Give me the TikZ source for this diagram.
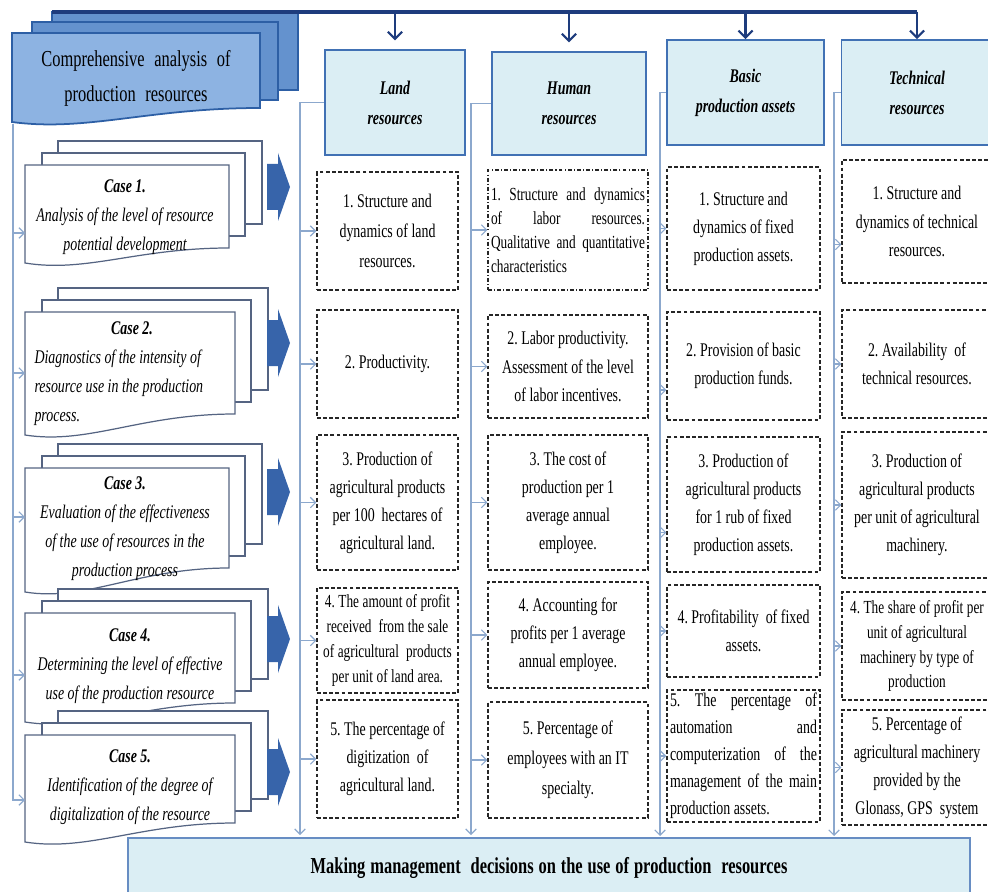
\documentclass[tikz,border=0pt]{standalone}
\usepackage{fontspec}
\setmainfont{Liberation Serif}[FakeStretch=0.72]
\frenchspacing
\usetikzlibrary{arrows.meta}

\definecolor{headfront}{RGB}{141,179,226}
\definecolor{headback}{RGB}{100,146,206}
\definecolor{headedge}{RGB}{45,95,165}
\definecolor{busblue}{RGB}{30,60,125}
\definecolor{colfill}{RGB}{219,238,244}
\definecolor{coledge}{RGB}{65,113,180}
\definecolor{linkblue}{RGB}{140,168,205}
\definecolor{pageedge}{RGB}{85,100,130}
\definecolor{arrowblue}{RGB}{55,100,170}

\newcommand{\widesp}{\spaceskip=5.5pt plus 1pt\relax}
\newcommand{\decsp}{\spaceskip=2.8pt plus 1pt\relax}
\newcommand{\tightsp}{\spaceskip=2pt plus 1.5pt minus 0.4pt\relax\xspaceskip=\spaceskip}

\tikzset{
  headpage/.style={draw=headedge,line width=1pt,fill=headback},
  headfrontpage/.style={draw=headedge,line width=1pt,fill=headfront},
  casepage/.style={draw=pageedge,line width=0.7pt,fill=white},
  casetext/.style={font=\fontsize{11}{16.5}\selectfont\itshape\tightsp,align=flush center,
    execute at begin node=\tightsp,text width=3.9cm,inner sep=0pt},
  bus/.style={draw=busblue,line width=1.8pt},
  drop/.style={draw=busblue,line width=1.2pt,->,>={Straight Barb[length=4pt,width=8pt]}},
  link/.style={draw=linkblue,line width=0.7pt,->,>={Straight Barb[length=3pt,width=6pt]}},
  colhead/.style={draw=coledge,line width=1.1pt,fill=colfill,align=center,
    font=\fontsize{11}{17}\selectfont\bfseries\itshape\tightsp},
  crit/.style={draw=black!85,line width=0.6pt,dash pattern=on 2.2pt off 1.3pt,fill=white,
    align=flush center,execute at begin node=\tightsp,inner sep=1.5pt,font=\fontsize{11}{16}\selectfont\tightsp},
  landbox/.style={crit,minimum width=2.82cm,text width=2.7cm},
  humanbox/.style={crit,minimum width=3.2cm,text width=3.08cm},
  basicbox/.style={crit,minimum width=3.06cm,text width=2.94cm},
  techbox/.style={crit,minimum width=3.0cm,text width=2.88cm},
  blockarrow/.style={fill=arrowblue},
  decision/.style={draw=coledge!80,line width=1pt,fill=colfill,minimum width=16.84cm,
    minimum height=1.2cm,font=\fontsize{13}{15}\selectfont\bfseries\decsp}
}

% page with a wavy lower edge: style, x1, y1, x2, y2 (right bottom), drop at left
\newcommand{\docpage}[6]{%
  \filldraw[#1] (#2,#3) -- (#4,#3) -- (#4,#5)
    .. controls ({#4-0.45*(#4-#2)},#5) and ({#2+0.3*(#4-#2)},{#5+#6+10}) .. (#2,{#5+#6}) -- cycle;}
% stack of three pages for a case: right x, top y, right bottom y, drop
\newcommand{\casestack}[4]{%
  \filldraw[casepage] (58,{#2-24}) rectangle ({#1+33},{#3-24});
  \filldraw[casepage] (42,{#2-12}) rectangle ({#1+16},{#3-12});
  \docpage{casepage}{25}{#2}{#1}{#3}{#4}}

\begin{document}
\begin{tikzpicture}[x=0.02cm,y=-0.02cm]
\useasboundingbox (0,0) rectangle (988,892);

% header stack
\filldraw[headpage] (52,12) rectangle (298,90);
\filldraw[headpage] (32,22) rectangle (278,100);
\docpage{headfrontpage}{12}{33}{260}{108}{14}
\node[font=\fontsize{13}{20}\selectfont\widesp,align=center] (comp) at (136,78) {Comprehensive analysis of\\production resources};

% case stacks
\foreach \rx/\ty/\by/\dd in {229/165/248/15,235/312/414/21,229/468/568/24,235/613/703/19,235/735/823/19}
  {\casestack{\rx}{\ty}{\by}{\dd}}

\node[casetext] (c1) at (125,217) {{\bfseries Case 1.}\\Analysis of the level of resource\\potential development};
\node[casetext,align=flush left] (c2) at (132,374) {\makebox[3.9cm]{\bfseries Case 2.}\\Diagnostics of the intensity of\\resource use in the production\\process.};
\node[casetext] (c3) at (125,529) {{\bfseries Case 3.}\\Evaluation of the effectiveness\\of the use of resources in the\\production process};
\node[casetext] (c4) at (130,666) {{\bfseries Case 4.}\\Determining the level of effective\\use of the production resource};
\node[casetext] (c5) at (130,787) {{\bfseries Case 5.}\\Identification of the degree of\\digitalization of the resource};

% block arrows
\foreach \ay in {187,343,492,639,772}
  \fill[blockarrow] (278,\ay) ++(-11,-23) -- ++(11,0) -- ++(0,-11) -- ++(12,34) -- ++(-12,34) -- ++(0,-11) -- ++(-11,0) -- cycle;

% column headers
\node[colhead,minimum width=2.8cm,minimum height=2.1cm] (hLand) at (395,102.5) {Land\\resources};
\node[colhead,minimum width=3.08cm,minimum height=2.06cm] (hHuman) at (569,103.5) {Human\\resources};
\node[colhead,minimum width=3.14cm,minimum height=2.1cm] (hBasic) at (745.5,92.5) {Basic\\production assets};
\node[colhead,minimum width=3.02cm,minimum height=2.1cm] (hTech) at (917,92.5) {Technical\\resources};

% bus from the header
\coordinate (busL) at (52,12);
\draw[bus] (busL) -- (busL -| hTech);
\draw[drop] (busL -| hTech) -- (hTech.north);
\draw[drop,shorten >=5pt] (busL -| hLand) -- (hLand.north);
\draw[drop,shorten >=5pt] (busL -| hHuman) -- (hHuman.north);
\draw[drop] (busL -| hBasic) -- (hBasic.north);

% criteria boxes
\node[landbox,minimum height=2.36cm,font=\fontsize{11}{17}\selectfont\tightsp] (L1) at (387.5,231) {1. Structure and\\dynamics of land\\resources.};
\node[landbox,minimum height=2.16cm] (L2) at (387.5,364) {2. Productivity.};
\node[landbox,minimum height=2.7cm] (L3) at (387.5,502.5) {3. Production of\\agricultural products\\per 100\ \ hectares of\\agricultural land.};
\node[landbox,minimum height=2.1cm,font=\fontsize{10.5}{14.2}\selectfont\tightsp] (L4) at (387.5,640.5) {4. The amount of profit\\received\ \ from the sale\\of agricultural\ \ products\\per unit of land area.};
\node[landbox,minimum height=2.36cm] (L5) at (387.5,759) {5. The percentage of\\digitization\ \ of\\agricultural land.};

\node[humanbox,minimum height=2.4cm,dash pattern=on 2.2pt off 1.2pt on 0.6pt off 1.2pt,align=justify,font=\fontsize{10.5}{13.7}\selectfont\tightsp] (H1) at (568,230) {1.~Structure and dynamics\linebreak of labor resources.\linebreak Qualitative and quantitative\linebreak characteristics};
\node[humanbox,minimum height=2.06cm] (H2) at (568,366.5) {2. Labor productivity.\\Assessment of the level\\of labor incentives.};
\node[humanbox,minimum height=2.7cm] (H3) at (568,502.5) {3. The cost of\\production per 1\\average annual\\employee.};
\node[humanbox,minimum height=2.12cm] (H4) at (568,635) {4. Accounting for\\profits per 1 average\\annual employee.};
\node[humanbox,minimum height=2.32cm,font=\fontsize{11}{17}\selectfont\tightsp] (H5) at (568,760) {5. Percentage of\\employees with an IT\\specialty.};

\node[basicbox,minimum height=2.46cm] (B1) at (743.5,228.5) {1. Structure and\\dynamics of fixed\\production assets.};
\node[basicbox,minimum height=2.16cm] (B2) at (743.5,366) {2. Provision of basic\\production funds.};
\node[basicbox,minimum height=2.7cm] (B3) at (743.5,504.5) {3. Production of\\agricultural products\\for 1 rub of fixed\\production assets.};
\node[basicbox,minimum height=1.84cm] (B4) at (743.5,631) {4. Profitability\ \ of fixed\\assets.};
\node[basicbox,minimum height=2.64cm,align=justify,font=\fontsize{11}{15.4}\selectfont\tightsp] (B5) at (743.5,756) {5.~The percentage of\linebreak automation and\linebreak computerization of the\linebreak management of the main\linebreak production assets.};

\node[techbox,minimum height=2.46cm] (T1) at (917,221.5) {1. Structure and\\dynamics of technical\\resources.};
\node[techbox,minimum height=2.16cm] (T2) at (917,364) {2. Availability\ \ of\\technical resources.};
\node[techbox,minimum height=2.92cm] (T3) at (917,505) {3. Production of\\agricultural products\\per unit of agricultural\\machinery.};
\node[techbox,minimum height=2.16cm,font=\fontsize{10.5}{14.2}\selectfont\tightsp] (T4) at (917,646) {4. The share of profit per\\unit of agricultural\\machinery by type of\\production};
\node[techbox,minimum height=2.3cm] (T5) at (917,767.5) {5. Percentage of\\agricultural machinery\\provided by the\\Glonass, GPS\ \ system};

% decision box
\node[decision] (dec) at (549,868) {Making management\ \ decisions on the use of production\ \ resources};

% thin connectors
\coordinate (leftTop) at (13,124);
\coordinate (c1in) at (25,233);
\coordinate (c2in) at (25,373);
\coordinate (c3in) at (25,517);
\coordinate (c4in) at (25,675);
\coordinate (c5in) at (25,800);
\draw[link] (leftTop) |- (c5in);
\foreach \c in {c1in,c2in,c3in,c4in}
  \draw[link] (leftTop |- \c) -- (\c);

\coordinate (vL) at (300,835);
\coordinate (vH) at (471,835);
\coordinate (vB) at (660,836);
\coordinate (vT) at (834,836);
\draw[link] (hLand.west) -| (vL);
\draw[link] (hHuman.west) -| (vH);
\draw[link] (hBasic.west) -| (vB);
\draw[link] (hTech.west) -| (vT);
\foreach \n in {L1,L2,L3,L4,L5}
  \draw[link] (\n.west -| vL) -- (\n.west);
\foreach \n in {H1,H2,H3,H4,H5}
  \draw[link] (\n.west -| vH) -- (\n.west);
\foreach \n in {B1,B4,B5}
  \draw[link] (\n.west -| vB) -- (\n.west);
\draw[link] ([yshift=-0.48cm]B2.west -| vB) -- ([yshift=-0.48cm]B2.west);
\draw[link] ([yshift=-0.56cm]B3.west -| vB) -- ([yshift=-0.56cm]B3.west);
\foreach \n in {T2,T3,T4,T5}
  \draw[link] (\n.west -| vT) -- (\n.west);
\draw[link] ([yshift=-0.46cm]T1.west -| vT) -- ([yshift=-0.46cm]T1.west);
\end{tikzpicture}
\end{document}
